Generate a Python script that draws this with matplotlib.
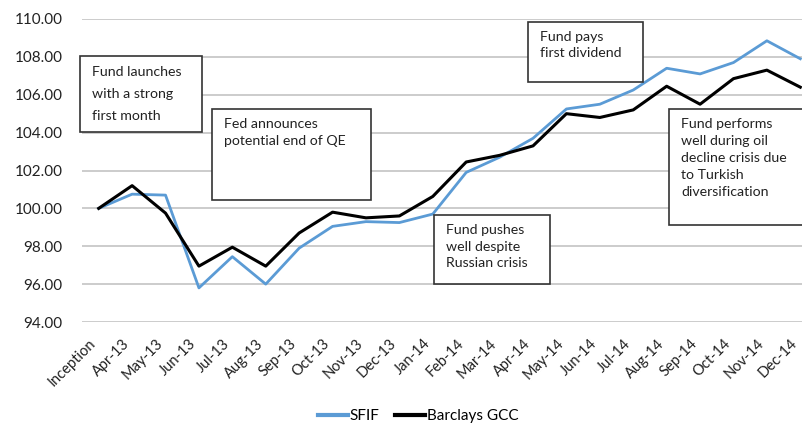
import matplotlib
matplotlib.use("Agg")
import matplotlib.pyplot as plt
from matplotlib.patches import Rectangle
from matplotlib.transforms import ScaledTranslation

plt.rcParams['font.family'] = ['Lato', 'DejaVu Sans']

categories = ["Inception", "Apr-13", "May-13", "Jun-13", "Jul-13", "Aug-13", "Sep-13",
              "Oct-13", "Nov-13", "Dec-13", "Jan-14", "Feb-14", "Mar-14", "Apr-14",
              "May-14", "Jun-14", "Jul-14", "Aug-14", "Sep-14", "Oct-14", "Nov-14", "Dec-14"]
sfif = [100.0, 100.75, 100.7, 95.8, 97.45, 96.0, 97.9, 99.05, 99.3, 99.25, 99.7,
        101.9, 102.7, 103.7, 105.25, 105.5, 106.25, 107.4, 107.1, 107.7, 108.85, 107.9]
barclays = [100.0, 101.2, 99.75, 96.95, 97.95, 96.95, 98.7, 99.8, 99.5, 99.6, 100.63,
            102.45, 102.8, 103.3, 105.0, 104.8, 105.2, 106.45, 105.5, 106.85, 107.3, 106.4]
yticks = [94, 96, 98, 100, 102, 104, 106, 108, 110]

annotations = [
    ("Fund launches\nwith a strong\nfirst month", (-0.57, 104.03, 3.66, 4.01), 2.0),
    ("Fed announces\npotential end of QE", (3.39, 100.44, 4.76, 4.81), 1.45),
    ("Fund pays\nfirst dividend", (12.85, 106.67, 3.45, 3.17), 1.4),
    ("Fund pushes\nwell despite\nRussian crisis", (10.04, 96.01, 3.47, 3.64), 1.45),
    ("Fund performs\nwell during oil\ndecline crisis due\nto Turkish\ndiversification", (17.08, 99.12, 5.0, 6.13), 1.5),
]

fig = plt.figure(figsize=(8.02, 4.24), dpi=100)
ax = fig.add_axes([82/802, 1 - 322/424, (817 - 82)/802, (322 - 19)/424])

x = list(range(len(categories)))
ax.plot(x, sfif, color="#5b9bd5", lw=2.0, label="SFIF", zorder=3)
ax.plot(x, barclays, color="#000000", lw=2.2, label="Barclays GCC", zorder=3)

ax.set_xlim(-0.5, len(categories) - 0.5)
ax.set_ylim(94, 110)
ax.set_yticks(yticks)
ax.set_yticklabels([f"{v:.2f}" for v in yticks])
ax.yaxis.grid(True, color="#c8c8c8", lw=1.3)
ax.set_axisbelow(True)
for s in ax.spines.values():
    s.set_visible(False)
ax.tick_params(axis="y", length=0, pad=14, labelsize=11, labelcolor="#222222")
ax.set_xticks(x)
ax.set_xticklabels(categories, rotation=45, ha="right", va="center", rotation_mode="anchor",
                   fontsize=10.5, color="#222222")
ax.tick_params(axis="x", length=0, pad=14)
shift = ScaledTranslation(-5 / 100, 0, fig.dpi_scale_trans)
for lbl in ax.get_xticklabels():
    lbl.set_transform(lbl.get_transform() + shift)

for text, (x0, y0, w, h), ls in annotations:
    ax.add_patch(Rectangle((x0, y0), w, h, facecolor="white", edgecolor="#333333",
                           lw=1.2, zorder=5, clip_on=False))
    ax.text(x0 + 0.36, y0 + h - 0.5, text, fontsize=10.2, color="#222222",
            ha="left", va="top", linespacing=ls, zorder=6)

fig.legend(loc="center", bbox_to_anchor=(418/802, 1 - 416/424), ncol=2, frameon=False,
           fontsize=11, handlelength=2.0, handletextpad=0.1, columnspacing=1.0)
for line in fig.legends[0].get_lines():
    line.set_linewidth(3)

fig.savefig("out.png", dpi=100)
